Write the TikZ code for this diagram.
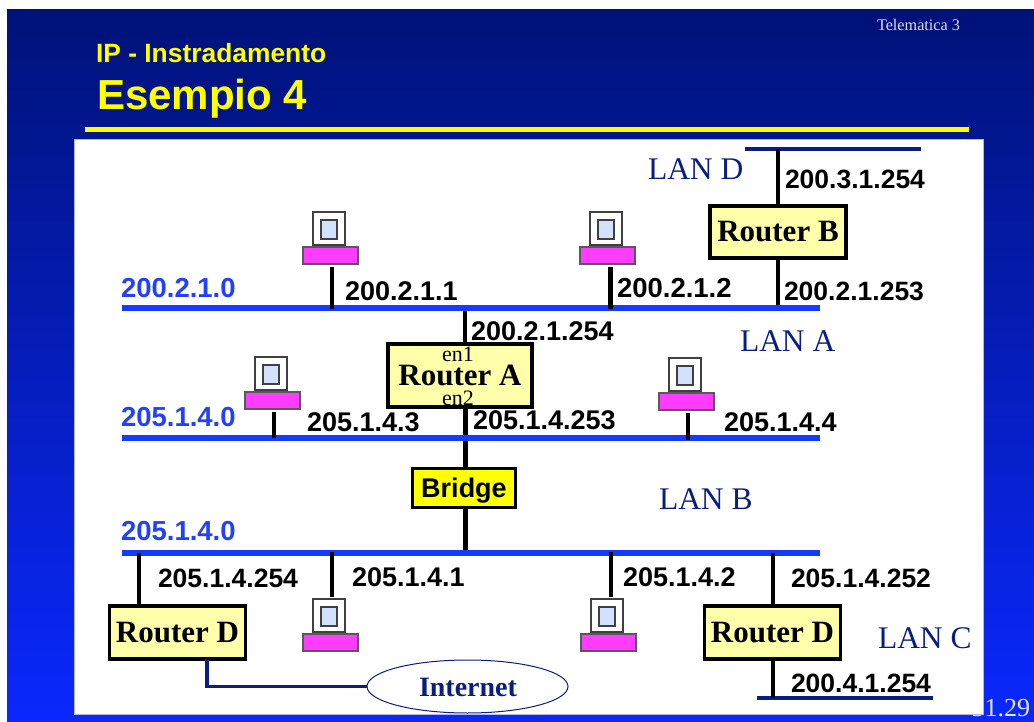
\documentclass[tikz,border=0pt]{standalone}
\usepackage{fontspec}
\usetikzlibrary{shapes.geometric}
\setmainfont{Liberation Serif}
\setsansfont{Liberation Sans}
\definecolor{bgtop}{RGB}{0,18,120}
\definecolor{bgmid}{RGB}{3,26,165}
\definecolor{bgbot}{RGB}{10,40,255}
\definecolor{titley}{RGB}{255,255,0}
\definecolor{navyl}{RGB}{10,30,130}
\definecolor{busblue}{RGB}{20,60,255}
\definecolor{labblue}{RGB}{35,65,250}
\definecolor{boxy}{RGB}{255,255,170}
\definecolor{magbase}{RGB}{255,60,255}
\definecolor{screenb}{RGB}{210,225,255}
\definecolor{panelb}{RGB}{180,185,215}
\newcommand{\fs}[1]{\fontsize{#1}{#1}\selectfont}
\tikzset{
  x=1pt,y=-1pt,
  txt/.style={inner sep=0pt,outer sep=0pt,anchor=base west},
  addr/.style={txt,font=\sffamily\bfseries\fs{26.5},text=black},
  netlab/.style={txt,font=\sffamily\bfseries\fs{27.5},text=labblue},
  lanlab/.style={txt,font=\rmfamily\fs{31.5},text=navyl},
  router/.style={draw=black,line width=3.2pt,fill=boxy,inner sep=0pt,outer sep=0pt,font=\rmfamily\bfseries\fs{31},text=black},
  bridgebox/.style={draw=black,line width=3.5pt,fill=titley,inner sep=0pt,outer sep=0pt,font=\sffamily\bfseries\fs{27},text=black,text depth=0pt},
  bus/.style={draw=busblue,line width=6pt},
  navybus/.style={draw=navyl,line width=4pt},
  tap/.style={draw=black,line width=4.5pt},
  thintap/.style={draw=black,line width=3.5pt},
  monitor/.style={draw=black!75,line width=1.2pt,fill=white},
  screen/.style={draw=black!75,line width=1.2pt,fill=screenb},
  pcbase/.style={draw=black!65,line width=1.2pt,fill=magbase},
}
\newcommand{\pc}[3]{% monitor left, monitor top, base left
  \draw[monitor] (#1,#2) rectangle ++(32,33);
  \draw[screen] (#1+8,#2+8) rectangle ++(16,19);
  \draw[pcbase] (#3,#2+35) rectangle ++(55,17);
}
\begin{document}
\begin{tikzpicture}
\useasboundingbox (0,0) rectangle (1034,722);
\fill[white] (0,0) rectangle (1034,722);
% slide background
\path[shade,top color=bgtop,middle color=bgmid,bottom color=bgbot] (7,10) rectangle (1034,722);
\node[txt,anchor=base east,font=\rmfamily\fs{26},text=white!90!blue] (pageno) at (1030,716) {31.29};
\draw[draw=panelb,line width=1pt,fill=white] (74,140) rectangle (983,714);
% title
\node[txt,font=\sffamily\bfseries\fs{26.4},text=titley] (t1) at (96,63) {IP - Instradamento};
\node[txt,font=\sffamily\bfseries\fs{42},text=titley] (t2) at (97,109.5) {Esempio 4};
\node[txt,font=\rmfamily\fs{16.2},text=white!85!blue] (tel) at (877,31) {Telematica 3};
\fill[titley] (85,127.5) rectangle (969,132.5);
% named bus end points
\coordinate (ba1) at (122,308); \coordinate (ba2) at (820,308);
\coordinate (bb1) at (122,438); \coordinate (bb2) at (820,438);
\coordinate (bc1) at (122,553); \coordinate (bc2) at (820,553);
\coordinate (bd1) at (745,149); \coordinate (bd2) at (921,149);
\coordinate (be1) at (757,698); \coordinate (be2) at (933,698);
\coordinate (xa) at (465,0);
\coordinate (xd1) at (139,0);
\coordinate (xd2) at (773,0);
\coordinate (xi) at (207,0);
% boxes
\node[router,minimum width=136,minimum height=52] (rb) at (778,232) {Router B};
\node[router,minimum width=144,minimum height=63] (ra) at (460,375.5) {Router A};
\node[bridgebox,minimum width=103,minimum height=39] (br) at (464,488) {Bridge};
\node[router,minimum width=136,minimum height=53] (rd1) at (177.5,632.5) {Router D};
\node[router,minimum width=136,minimum height=53] (rd2) at (772.5,632.5) {Router D};
\node[draw=navyl,line width=1pt,ellipse,minimum width=201,minimum height=53,inner sep=0pt,outer sep=0pt] (inet) at (467.5,686.5) {};
\node[txt,anchor=base,font=\rmfamily\bfseries\fs{28},text=navyl] (inetl) at (468,696) {Internet};
% buses
\draw[navybus] (bd1) -- (bd2);
\draw[thintap] (rb.north) -- (rb.north |- bd1);
\draw[thintap] (rb.south) -- (rb.south |- ba1);
\draw[draw=black,line width=3.2pt] (ra.north -| xa) -- (xa |- ba1);
\draw[tap,line width=5pt] (ra.south -| xa) -- (xa |- bb1);
\draw[tap,line width=5pt] (xa |- bb1) -- (br.north -| xa);
\draw[tap,line width=5pt] (br.south -| xa) -- (xa |- bc1);
\draw[bus] (ba1) -- (ba2);
\draw[bus] (bb1) -- (bb2);
\draw[bus] (bc1) -- (bc2);
\draw[navybus] (be1) -- (be2);
% router taps
\draw[thintap] (xd1 |- bc1) -- (rd1.north -| xd1);
\draw[thintap] (xd2 |- bc1) -- (rd2.north -| xd2);
\draw[thintap] (rd2.south -| xd2) -- (xd2 |- be1);
\draw[navyl,line width=3.5pt] (rd1.south -| xi) -- (xi |- inet.west) -- (inet.west);
% computers
\pc{313}{212}{303}
\draw[tap] (332,267) -- (332,309);
\pc{590}{212}{580}
\draw[tap] (610.5,267) -- (610.5,309);
\pc{255}{357}{245}
\draw[thintap] (274,412) -- (274,438);
\pc{669}{358}{659}
\draw[tap] (688,413) -- (688,440);
\pc{313}{599}{303}
\draw[tap] (332,552) -- (332,597);
\pc{591}{599}{581}
\draw[tap] (611,552) -- (611,597);
% interface labels
\node[txt,font=\rmfamily\fs{22},text=black] (en1) at (442,361) {en1};
\node[txt,font=\rmfamily\fs{22},text=black] (en2) at (442,405) {en2};
% addresses
\node[addr] (l1) at (785,189) {200.3.1.254};
\node[addr,font=\sffamily\bfseries\fs{27}] (l2) at (345,301) {200.2.1.1};
\node[addr,font=\sffamily\bfseries\fs{27.5}] (l3) at (617,298) {200.2.1.2};
\node[addr] (l4) at (784,301) {200.2.1.253};
\node[addr,font=\sffamily\bfseries\fs{27}] (l5) at (471,341) {200.2.1.254};
\node[addr,font=\sffamily\bfseries\fs{27}] (l6) at (307,431) {205.1.4.3};
\node[addr,font=\sffamily\bfseries\fs{27}] (l7) at (473,429) {205.1.4.253};
\node[addr,font=\sffamily\bfseries\fs{27}] (l8) at (724,431) {205.1.4.4};
\node[addr] (l9) at (158,587) {205.1.4.254};
\node[addr,font=\sffamily\bfseries\fs{27}] (l10) at (352,586) {205.1.4.1};
\node[addr,font=\sffamily\bfseries\fs{27}] (l11) at (623,586) {205.1.4.2};
\node[addr] (l12) at (791,587) {205.1.4.252};
\node[addr] (l13) at (791,692) {200.4.1.254};
% network labels
\node[netlab] (n1) at (121,298) {200.2.1.0};
\node[netlab] (n2) at (121,426) {205.1.4.0};
\node[netlab] (n3) at (121,540) {205.1.4.0};
% LAN labels
\node[lanlab] (ld) at (648,180) {LAN D};
\node[lanlab] (la) at (740,351) {LAN A};
\node[lanlab] (lb) at (659,509) {LAN B};
\node[lanlab] (lc) at (878,648) {LAN C};
\end{tikzpicture}
\end{document}
